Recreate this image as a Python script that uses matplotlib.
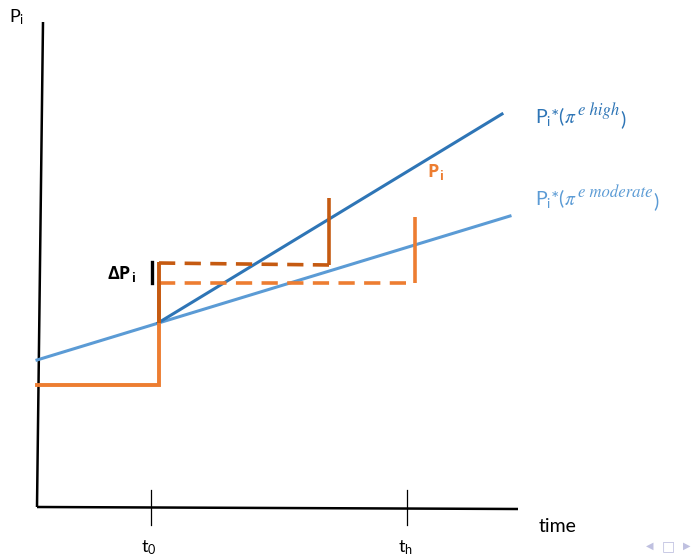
import matplotlib
matplotlib.use("Agg")
import matplotlib.pyplot as plt

plt.rcParams['mathtext.fontset'] = 'custom'
plt.rcParams['mathtext.rm'] = 'Lato'
plt.rcParams['mathtext.it'] = 'STIXGeneral:italic'

# schematic coordinates: time to the right, price upward (origin at the axes corner)
axis_x_t = [0, 481]
axis_x_p = [0, -2]
axis_y_t = [0, 6]
axis_y_p = [0, 485]

tick_t = [114, 370]
tick_labels = ['$\\mathregular{t_0}$', '$\\mathregular{t_h}$']

# P_i* lines
moderate_t = [0, 473]
moderate_p = [147, 291]
high_t = [121, 465]
high_p = [184, 393]

# actual price path
pi_t = [0, 122, 122]
pi_p = [122, 122, 224]
jump_t = [122, 122]
jump_p = [184, 245]

# dashed expected paths
dash_mod_t = [122, 378]
dash_mod_p = [224, 224]
spike_mod_t = [378, 378]
spike_mod_p = [224, 290]
dash_high_t = [122, 292]
dash_high_p = [244, 242]
spike_high_t = [292, 292]
spike_high_p = [242, 309]

LIGHT_BLUE = '#5B9BD5'
DARK_BLUE = '#2E75B6'
ORANGE = '#ED7D31'
DARK_ORANGE = '#C55A11'

fig = plt.figure(figsize=(6.93, 5.56), dpi=100)
ax = fig.add_axes([0, 0, 1, 1])
ax.set_xlim(-37, 656)
ax.set_ylim(-49, 507)
ax.axis('off')

ax.plot(axis_y_t, axis_y_p, color='black', lw=1.8, solid_capstyle='butt')
ax.plot(axis_x_t, axis_x_p, color='black', lw=1.8, solid_capstyle='butt')
for t in tick_t:
    ax.plot([t, t], [17, -18], color='black', lw=0.9)
for t, lab in zip(tick_t, tick_labels):
    ax.text(t - 2, -41, lab, fontsize=13, family='Lato', ha='center', va='center')
ax.text(521, -20, 'time', fontsize=14, family='Lato', ha='center', va='center')
ax.text(-20, 490, '$\\mathregular{P_i}$', fontsize=13, family='Lato', ha='center', va='center')

ax.plot(moderate_t, moderate_p, color=LIGHT_BLUE, lw=2.2)
ax.plot(high_t, high_p, color=DARK_BLUE, lw=2.2)

ax.plot(dash_mod_t, dash_mod_p, color=ORANGE, lw=2.6, dashes=(4.5, 2.6))
ax.plot(spike_mod_t, spike_mod_p, color=ORANGE, lw=2.6, solid_capstyle='butt')
ax.plot(dash_high_t, dash_high_p, color=DARK_ORANGE, lw=2.6, dashes=(4.5, 2.6))
ax.plot(spike_high_t, spike_high_p, color=DARK_ORANGE, lw=2.6, solid_capstyle='butt')

ax.plot(pi_t, pi_p, color=ORANGE, lw=2.8, solid_joinstyle='miter')
ax.plot(jump_t, jump_p, color=DARK_ORANGE, lw=2.8, solid_capstyle='butt')


def star_label(t, p, sup, color):
    base = ax.text(t, p, '$\\mathregular{P_i}$*($\\pi$', fontsize=14, family='Lato',
                   color=color, ha='left', va='baseline')
    s = ax.annotate(sup, xy=(1, 1), xycoords=base, xytext=(1, 2), textcoords='offset points',
                    fontsize=12, family='STIXGeneral', style='italic', color=color,
                    ha='left', va='top')
    ax.annotate(')', xy=(1, 0), xycoords=(s, base), xytext=(0.5, 0), textcoords='offset points',
                fontsize=14, family='Lato', color=color, ha='left', va='bottom')


star_label(498, 384, 'e high', DARK_BLUE)
star_label(498, 302, 'e moderate', LIGHT_BLUE)


def bold_sub(t, p, main, sub, color):
    m = ax.text(t, p, main, fontsize=13, family='Open Sans', weight='bold',
                color=color, ha='left', va='baseline')
    ax.annotate(sub, xy=(1, 0.62), xycoords=m, xytext=(0.5, 0), textcoords='offset points',
                fontsize=9, family='Open Sans', weight='bold', color=color,
                ha='left', va='top')


bold_sub(390, 330, 'P', 'i', ORANGE)
bold_sub(70, 228, 'ΔP', 'i', 'black')
ax.plot([115, 115], [224, 245], color='black', lw=2.4)

ax.text(613, -39, '◀', fontsize=7, color='#BFC0E0', ha='center', va='center')
ax.text(631, -39, '□', fontsize=10, color='#BFC0E0', ha='center', va='center')
ax.text(650, -39, '▶', fontsize=7, color='#BFC0E0', ha='center', va='center')

fig.savefig('out.png', dpi=100)
